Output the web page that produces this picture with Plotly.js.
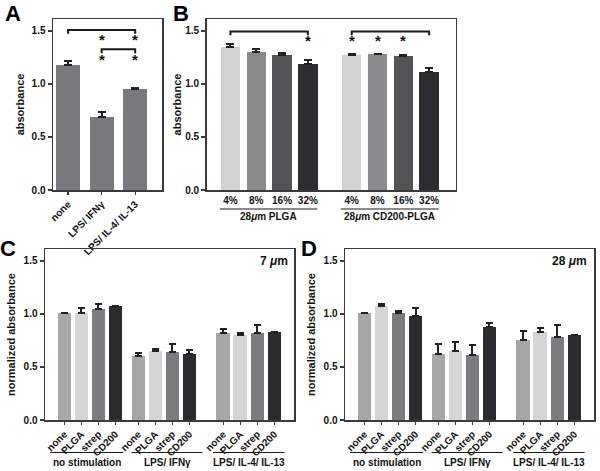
<!DOCTYPE html>
<html>
<head>
<meta charset="utf-8">
<script src="https://cdn.plot.ly/plotly-3.0.1.min.js"></script>
<style>html,body{margin:0;padding:0;background:#fff;}#chart{width:600px;height:471px;}</style>
</head>
<body>
<div id="chart"></div>
<script>
// ---------- Panel A ----------
const aCategories = ['none', 'LPS/ IFNγ', 'LPS/ IL-4/ IL-13'];
const aValues = [1.18, 0.69, 0.952];
const aErrors = [0.04, 0.042, 0.01];

// ---------- Panel B ----------
const bConc = ['4%', '8%', '16%', '32%'];
const bGroups = ['28<i>μ</i>m PLGA', '28<i>μ</i>m CD200-PLGA'];
const bPLGA = [1.346, 1.30, 1.27, 1.189];
const bPLGAErr = [0.034, 0.033, 0.022, 0.037];
const bCD200 = [1.27, 1.28, 1.264, 1.11];
const bCD200Err = [0.01, 0.004, 0.006, 0.044];

// ---------- Panels C & D ----------
const treatments = ['none', 'PLGA', 'strep', 'CD200'];
const stimGroups = ['no stimulation', 'LPS/ IFNγ', 'LPS/ IL-4/ IL-13'];

const cNone = [1.01, 0.60, 0.822];
const cNoneErr = [0, 0.03, 0.032];
const cPLGA = [1.01, 0.65, 0.806];
const cPLGAErr = [0.047, 0.022, 0.013];
const cStrep = [1.044, 0.645, 0.825];
const cStrepErr = [0.046, 0.068, 0.067];
const cCD200 = [1.08, 0.625, 0.829];
const cCD200Err = [0, 0.04, 0.003];

const dNone = [1.01, 0.625, 0.752];
const dNoneErr = [0, 0.092, 0.092];
const dPLGA = [1.08, 0.651, 0.832];
const dPLGAErr = [0.015, 0.086, 0.038];
const dStrep = [1.01, 0.61, 0.787];
const dStrepErr = [0.015, 0.10, 0.108];
const dCD200 = [0.981, 0.876, 0.803];
const dCD200Err = [0.076, 0.041, 0];

// ---------- layout helpers ----------
const W = 600, H = 471;
const px = v => v / W;
const py = v => 1 - v / H;
const FONT = 'Arial, "Liberation Sans", Helvetica, sans-serif';
const ERRC = '#222222';

const bPos1 = [0, 1, 2, 3];
const bPos2 = [4.7, 5.7, 6.7, 7.7];
const cdBase = [0, 4.33, 9.3];
const treatColors = ['#a7a7a7', '#d5d5d5', '#7c7c80', '#2c2c2e'];
const concColors = ['#d2d2d2', '#8b8b8d', '#545456', '#2d2d2f'];

function errY(arr, w) {
  return {type: 'data', symmetric: false, array: arr, arrayminus: arr.map(() => 0),
          color: ERRC, thickness: 2, width: w};
}

const traces = [];
traces.push({
  type: 'bar', x: aCategories, y: aValues, xaxis: 'x', yaxis: 'y',
  marker: {color: '#7a7a7e'}, width: 0.72, error_y: errY(aErrors, 4), showlegend: false
});
traces.push({
  type: 'bar', x: bPos1, y: bPLGA, xaxis: 'x2', yaxis: 'y2', name: 'PLGA',
  marker: {color: concColors}, width: 0.75, error_y: errY(bPLGAErr, 4), showlegend: false
});
traces.push({
  type: 'bar', x: bPos2, y: bCD200, xaxis: 'x2', yaxis: 'y2', name: 'CD200-PLGA',
  marker: {color: concColors}, width: 0.75, error_y: errY(bCD200Err, 4), showlegend: false
});

const cSeries = [[cNone, cNoneErr], [cPLGA, cPLGAErr], [cStrep, cStrepErr], [cCD200, cCD200Err]];
const dSeries = [[dNone, dNoneErr], [dPLGA, dPLGAErr], [dStrep, dStrepErr], [dCD200, dCD200Err]];
treatments.forEach((t, i) => {
  traces.push({
    type: 'bar', name: t, x: cdBase.map(b => b + i), y: cSeries[i][0], xaxis: 'x3', yaxis: 'y3',
    marker: {color: treatColors[i]}, width: 0.79, error_y: errY(cSeries[i][1], 3.5), showlegend: false
  });
  traces.push({
    type: 'bar', name: t, x: cdBase.map(b => b + i), y: dSeries[i][0], xaxis: 'x4', yaxis: 'y4',
    marker: {color: treatColors[i]}, width: 0.79, error_y: errY(dSeries[i][1], 3.5), showlegend: false
  });
});

const cdTickVals = [], cdTickText = [];
cdBase.forEach(b => treatments.forEach((t, i) => { cdTickVals.push(b + i); cdTickText.push(t); }));

const tickFont = {family: FONT, size: 10, color: '#111', weight: 'bold'};
const titleFont = {family: FONT, size: 11, color: '#111', weight: 'bold'};

function xAx(domain, extra) {
  return Object.assign({
    domain: domain, showline: true, mirror: true, linecolor: '#3a3a3a', linewidth: 1.5,
    ticks: 'outside', ticklen: 3, tickcolor: '#3a3a3a', tickwidth: 1.2,
    showgrid: false, zeroline: false, tickfont: tickFont, fixedrange: true
  }, extra);
}
function yAx(domain, anchor, title, standoff) {
  return {
    domain: domain, anchor: anchor, range: [0, 1.613], showline: true, mirror: true,
    linecolor: '#3a3a3a', linewidth: 1.5, ticks: 'outside', ticklen: 4, tickcolor: '#3a3a3a',
    tickwidth: 1.2, tickvals: [0, 0.5, 1.0, 1.5], ticktext: ['0.0', '0.5', '1.0', '1.5'],
    showgrid: false, zeroline: false, tickfont: tickFont,
    title: {text: title, font: titleFont, standoff: standoff}, automargin: false
  };
}

const yTop = [py(190), py(19)];
const yBot = [py(420), py(249)];

const layout = {
  width: W, height: H, margin: {l: 0, r: 0, t: 0, b: 0},
  paper_bgcolor: '#fff', plot_bgcolor: '#fff', showlegend: false, bargap: 0,
  font: {family: FONT},
  xaxis: xAx([px(53), px(162)], {anchor: 'y', type: 'category', range: [-0.45, 2.8], tickangle: -45}),
  yaxis: yAx(yTop, 'x', 'absorbance', 4),
  xaxis2: xAx([px(206.7), px(455.7)], {anchor: 'y2', range: [-0.92, 8.73], ticks: '',
    tickvals: bPos1.concat(bPos2), ticktext: bConc.concat(bConc), tickangle: 0}),
  yaxis2: yAx(yTop, 'x2', 'absorbance', 1),
  xaxis3: xAx([px(45), px(294)], {anchor: 'y3', range: [-1.13, 13.45],
    tickvals: cdTickVals, ticktext: cdTickText, tickangle: -45}),
  yaxis3: yAx(yBot, 'x3', 'normalized absorbance', 5),
  xaxis4: xAx([px(345), px(594)], {anchor: 'y4', range: [-1.13, 13.45],
    tickvals: cdTickVals, ticktext: cdTickText, tickangle: -45}),
  yaxis4: yAx(yBot, 'x4', 'normalized absorbance', 5),
  shapes: [],
  annotations: []
};

const lineStyle = {color: '#1a1a1a', width: 2};
// significance brackets
layout.shapes.push({type: 'path', xref: 'x', yref: 'y', path: 'M 0,1.475 L 0,1.51 L 2,1.51 L 2,1.475', line: lineStyle});
layout.shapes.push({type: 'path', xref: 'x', yref: 'y', path: 'M 1,1.29 L 1,1.327 L 2,1.327 L 2,1.29', line: lineStyle});
layout.shapes.push({type: 'path', xref: 'x2', yref: 'y2', path: 'M 0,1.46 L 0,1.494 L 3,1.494 L 3,1.46', line: lineStyle});
layout.shapes.push({type: 'path', xref: 'x2', yref: 'y2', path: 'M 4.7,1.46 L 4.7,1.494 L 7.7,1.494 L 7.7,1.46', line: lineStyle});

function star(xref, yref, x, y) {
  layout.annotations.push({xref: xref, yref: yref, x: x, y: y, text: '*', showarrow: false,
    font: {family: FONT, size: 15, color: '#111', weight: 'bold'}, yanchor: 'middle', yshift: -2});
}
star('x', 'y', 1, 1.44); star('x', 'y', 2, 1.44);
star('x', 'y', 1, 1.25); star('x', 'y', 2, 1.25);
star('x2', 'y2', 3, 1.43); star('x2', 'y2', 4.7, 1.43); star('x2', 'y2', 5.7, 1.43); star('x2', 'y2', 6.7, 1.43);

// group underlines and labels
const groupFont = {family: FONT, size: 10, color: '#111', weight: 'bold'};
function groupLine(xref, x0, x1, ypx, label, labelYpx) {
  layout.shapes.push({type: 'line', xref: xref, yref: 'paper', x0: x0, x1: x1, y0: py(ypx), y1: py(ypx),
    line: {color: '#1a1a1a', width: 1.2}});
  layout.annotations.push({xref: xref, yref: 'paper', x: (x0 + x1) / 2, y: py(labelYpx), text: label,
    showarrow: false, font: groupFont, xanchor: 'center', yanchor: 'middle'});
}
groupLine('x2', -0.41, 3.37, 209, bGroups[0], 216);
groupLine('x2', 4.27, 8.07, 209, bGroups[1], 216);
const cdLineEnds = [[-0.84, 3.45], [3.94, 8.09], [8.71, 12.9]];
['x3', 'x4'].forEach(xr => {
  cdLineEnds.forEach((e, i) => groupLine(xr, e[0], e[1], 452.5, stimGroups[i], 462));
});

// size labels
layout.annotations.push({xref: 'paper', yref: 'paper', x: px(290), y: py(261), text: '7 <i>μ</i>m',
  showarrow: false, xanchor: 'right', yanchor: 'middle', font: {family: FONT, size: 12, color: '#111', weight: 'bold'}});
layout.annotations.push({xref: 'paper', yref: 'paper', x: px(589), y: py(261), text: '28 <i>μ</i>m',
  showarrow: false, xanchor: 'right', yanchor: 'middle', font: {family: FONT, size: 12, color: '#111', weight: 'bold'}});

// panel letters
const letterFont = {family: FONT, size: 22, color: '#000', weight: 'bold'};
[['A', 13, 14], ['B', 181, 14], ['C', 8, 248], ['D', 309, 248]].forEach(l => {
  layout.annotations.push({xref: 'paper', yref: 'paper', x: px(l[1]), y: py(l[2]), text: l[0],
    showarrow: false, xanchor: 'center', yanchor: 'middle', font: letterFont});
});

Plotly.newPlot('chart', traces, layout, {staticPlot: true, displayModeBar: false});
</script>
</body>
</html>
